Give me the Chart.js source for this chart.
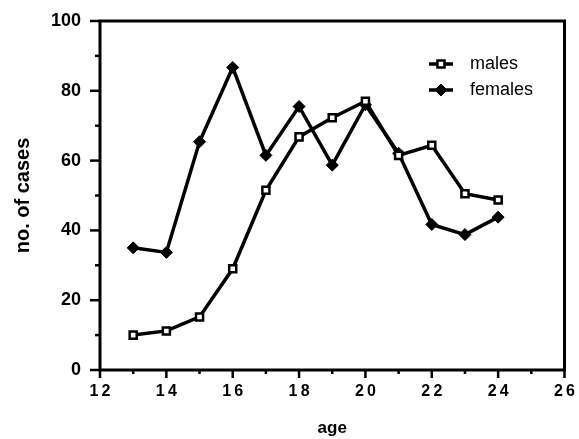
<!DOCTYPE html>
<html><head><meta charset="utf-8">
<script src="https://cdn.jsdelivr.net/npm/chart.js@4/dist/chart.umd.min.js"></script>
<style>html,body{margin:0;padding:0;background:#fff}#wrap{width:579px;height:439px}</style>
</head><body><div id="wrap"><canvas id="c" width="579" height="439"></canvas></div>
<script>
const ages = [13,14,15,16,17,18,19,20,21,22,23,24];
const males = [10,11.2,15.2,29,51.5,66.8,72.3,77,61.5,64.4,50.5,48.7];
const females = [35,33.7,65.4,86.7,61.5,75.5,58.7,76,62.1,41.7,38.8,43.8];
const xTicks = [12,14,16,18,20,22,24,26];
const yTicks = [0,20,40,60,80,100];
const seriesNames = ['males','females'];

const FONT = '"Liberation Sans", Arial, sans-serif';

const framePlugin = {
  id:'frame',
  afterDraw(chart){
    const {ctx, chartArea:a, scales:{x,y}} = chart;
    ctx.save();
    ctx.strokeStyle='#000';
    ctx.lineWidth=3;
    ctx.strokeRect(a.left, a.top, a.right-a.left, a.bottom-a.top);
    ctx.lineWidth=2.5;
    for(let v=0; v<=100; v+=10){
      const p = y.getPixelForValue(v);
      const len = (v%20===0)?10:5;
      ctx.beginPath(); ctx.moveTo(a.left-len,p); ctx.lineTo(a.left,p); ctx.stroke();
    }
    for(let v=12; v<=26; v+=1){
      const p = x.getPixelForValue(v);
      const len = (v%2===0)?8:4;
      ctx.beginPath(); ctx.moveTo(p,a.bottom); ctx.lineTo(p,a.bottom+len); ctx.stroke();
    }
    // legend
    const lx = 441, items=[{y:64},{y:90}];
    ctx.font = '18px '+FONT;
    ctx.textBaseline='middle';
    items.forEach((it,i)=>{
      const ds = chart.data.datasets[i];
      ctx.lineWidth=3.5; ctx.strokeStyle='#000';
      ctx.beginPath(); ctx.moveTo(lx-12,it.y); ctx.lineTo(lx+12,it.y); ctx.stroke();
      ctx.fillStyle = ds.pointBackgroundColor;
      ctx.strokeStyle = ds.pointBorderColor;
      ctx.lineWidth = ds.pointBorderWidth;
      Chart.helpers.drawPoint(ctx,{pointStyle:ds.pointStyle,radius:ds.pointRadius,borderWidth:ds.pointBorderWidth,rotation:0},lx,it.y);
      ctx.fillStyle='#000';
      ctx.fillText(seriesNames[i], lx+29, it.y);
    });
    ctx.restore();
  }
};

new Chart(document.getElementById('c'),{
  type:'line',
  data:{datasets:[
    {label:seriesNames[0],data:ages.map((a,i)=>({x:a,y:males[i]})),borderColor:'#000',borderWidth:3.5,
     pointStyle:'rect',pointRadius:5,pointBorderWidth:2.5,pointBackgroundColor:'#fff',pointBorderColor:'#000',tension:0},
    {label:seriesNames[1],data:ages.map((a,i)=>({x:a,y:females[i]})),borderColor:'#000',borderWidth:3.5,
     pointStyle:'rectRot',pointRadius:6,pointBorderWidth:1,pointBackgroundColor:'#000',pointBorderColor:'#000',tension:0}
  ]},
  plugins:[framePlugin],
  options:{
    responsive:false, animation:false,
    layout:{padding:{top:21,right:11,left:0,bottom:0}},
    plugins:{legend:{display:false},tooltip:{enabled:false}},
    scales:{
      x:{type:'linear',min:12,max:26,
        afterBuildTicks(s){s.ticks=xTicks.map(v=>({value:v}));},
        afterFit(s){s.height=69;},
        grid:{display:true,drawOnChartArea:false,drawTicks:true,tickLength:8,color:'transparent'},
        border:{display:false},
        ticks:{color:'#000',font:{family:FONT,size:16,weight:'bold'},padding:4,maxRotation:0,
          callback:v=>String(v).split('').join('\u2009')},
        title:{display:true,text:'age',color:'#000',font:{family:FONT,size:17,weight:'bold'},padding:{top:6,bottom:0}}
      },
      y:{min:0,max:100,
        afterBuildTicks(s){s.ticks=yTicks.map(v=>({value:v}));},
        afterFit(s){s.width=100;},
        grid:{display:true,drawOnChartArea:false,drawTicks:true,tickLength:10,color:'transparent'},
        border:{display:false},
        ticks:{color:'#000',font:{family:FONT,size:18,weight:'bold'},padding:9},
        title:{display:true,text:'no. of cases',color:'#000',font:{family:FONT,size:20,weight:'bold'},padding:{top:11,bottom:0}}
      }
    }
  }
});
</script></body></html>
